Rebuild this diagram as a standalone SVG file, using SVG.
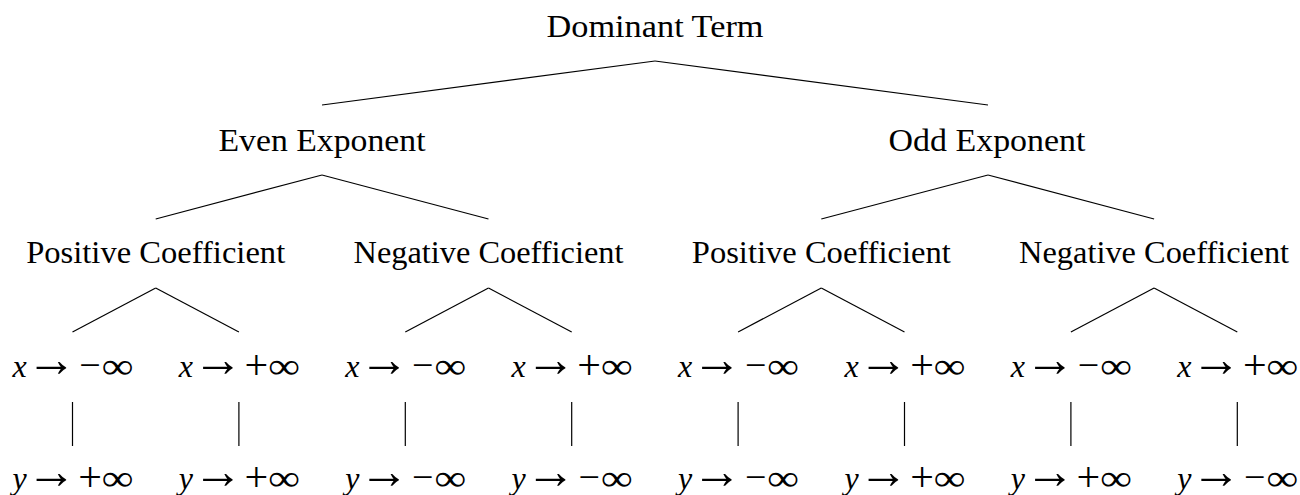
<svg xmlns="http://www.w3.org/2000/svg" width="1300" height="495" viewBox="0 0 1300 495">
<style>
text{font-family:"Liberation Serif","Times New Roman",serif;font-size:32px;fill:#000;text-anchor:middle}
.v{font-style:italic}
.ar{font-size:50px}
.mi{font-size:38px}
.pl{font-size:42px}
.in{font-size:36px}
.e line{stroke:#000;stroke-width:1.2}
</style>
<rect width="1300" height="495" fill="#fff"/>
<g class="e" id="connectors">
<line x1="655" y1="61" x2="322" y2="105"/><line x1="655" y1="61" x2="988" y2="105"/>
<line x1="322" y1="175" x2="155.7" y2="219"/><line x1="322" y1="175" x2="488.5" y2="219"/>
<line x1="988" y1="175" x2="821.3" y2="219"/><line x1="988" y1="175" x2="1154.1" y2="219"/>
<line x1="155.7" y1="288" x2="72.5" y2="332"/><line x1="155.7" y1="288" x2="238.9" y2="332"/>
<line x1="488.5" y1="288" x2="405.3" y2="332"/><line x1="488.5" y1="288" x2="571.7" y2="332"/>
<line x1="821.3" y1="288" x2="738.1" y2="332"/><line x1="821.3" y1="288" x2="904.5" y2="332"/>
<line x1="1154.1" y1="288" x2="1070.9" y2="332"/><line x1="1154.1" y1="288" x2="1237.3" y2="332"/>
<line x1="72.5" y1="402" x2="72.5" y2="446"/><line x1="238.9" y1="402" x2="238.9" y2="446"/>
<line x1="405.3" y1="402" x2="405.3" y2="446"/><line x1="571.7" y1="402" x2="571.7" y2="446"/>
<line x1="738.1" y1="402" x2="738.1" y2="446"/><line x1="904.5" y1="402" x2="904.5" y2="446"/>
<line x1="1070.9" y1="402" x2="1070.9" y2="446"/><line x1="1237.3" y1="402" x2="1237.3" y2="446"/>
</g>
<g id="root"><text x="655" y="37" textLength="217" lengthAdjust="spacingAndGlyphs">Dominant Term</text></g>
<g id="even"><text x="322" y="151" textLength="207" lengthAdjust="spacingAndGlyphs">Even Exponent</text></g>
<g id="odd"><text x="987" y="151" textLength="197" lengthAdjust="spacingAndGlyphs">Odd Exponent</text></g>
<g id="even-pos"><text x="155.7" y="263" textLength="259" lengthAdjust="spacingAndGlyphs">Positive Coefficient</text></g>
<g id="even-neg"><text x="488.5" y="263" textLength="270" lengthAdjust="spacingAndGlyphs">Negative Coefficient</text></g>
<g id="odd-pos"><text x="821.3" y="263" textLength="259" lengthAdjust="spacingAndGlyphs">Positive Coefficient</text></g>
<g id="odd-neg"><text x="1154.1" y="263" textLength="270" lengthAdjust="spacingAndGlyphs">Negative Coefficient</text></g>

<g id="x1" transform="translate(72.5,377)"><text class="v" x="-53">x</text><text class="ar" x="-21" y="-1">→</text><text class="mi" x="17.5" y="1">−</text><text class="in" x="45" y="1" textLength="32" lengthAdjust="spacingAndGlyphs">∞</text></g>
<g id="x2" transform="translate(238.9,377)"><text class="v" x="-53">x</text><text class="ar" x="-21" y="-1">→</text><text class="pl" x="17.5" y="2">+</text><text class="in" x="45" y="1" textLength="32" lengthAdjust="spacingAndGlyphs">∞</text></g>
<g id="x3" transform="translate(405.3,377)"><text class="v" x="-53">x</text><text class="ar" x="-21" y="-1">→</text><text class="mi" x="17.5" y="1">−</text><text class="in" x="45" y="1" textLength="32" lengthAdjust="spacingAndGlyphs">∞</text></g>
<g id="x4" transform="translate(571.7,377)"><text class="v" x="-53">x</text><text class="ar" x="-21" y="-1">→</text><text class="pl" x="17.5" y="2">+</text><text class="in" x="45" y="1" textLength="32" lengthAdjust="spacingAndGlyphs">∞</text></g>
<g id="x5" transform="translate(738.1,377)"><text class="v" x="-53">x</text><text class="ar" x="-21" y="-1">→</text><text class="mi" x="17.5" y="1">−</text><text class="in" x="45" y="1" textLength="32" lengthAdjust="spacingAndGlyphs">∞</text></g>
<g id="x6" transform="translate(904.5,377)"><text class="v" x="-53">x</text><text class="ar" x="-21" y="-1">→</text><text class="pl" x="17.5" y="2">+</text><text class="in" x="45" y="1" textLength="32" lengthAdjust="spacingAndGlyphs">∞</text></g>
<g id="x7" transform="translate(1070.9,377)"><text class="v" x="-53">x</text><text class="ar" x="-21" y="-1">→</text><text class="mi" x="17.5" y="1">−</text><text class="in" x="45" y="1" textLength="32" lengthAdjust="spacingAndGlyphs">∞</text></g>
<g id="x8" transform="translate(1237.3,377)"><text class="v" x="-53">x</text><text class="ar" x="-21" y="-1">→</text><text class="pl" x="17.5" y="2">+</text><text class="in" x="45" y="1" textLength="32" lengthAdjust="spacingAndGlyphs">∞</text></g>

<g id="y1" transform="translate(72.5,489)"><text class="v" x="-53">y</text><text class="ar" x="-21" y="-1">→</text><text class="pl" x="17.5" y="2">+</text><text class="in" x="45" y="1" textLength="32" lengthAdjust="spacingAndGlyphs">∞</text></g>
<g id="y2" transform="translate(238.9,489)"><text class="v" x="-53">y</text><text class="ar" x="-21" y="-1">→</text><text class="pl" x="17.5" y="2">+</text><text class="in" x="45" y="1" textLength="32" lengthAdjust="spacingAndGlyphs">∞</text></g>
<g id="y3" transform="translate(405.3,489)"><text class="v" x="-53">y</text><text class="ar" x="-21" y="-1">→</text><text class="mi" x="17.5" y="1">−</text><text class="in" x="45" y="1" textLength="32" lengthAdjust="spacingAndGlyphs">∞</text></g>
<g id="y4" transform="translate(571.7,489)"><text class="v" x="-53">y</text><text class="ar" x="-21" y="-1">→</text><text class="mi" x="17.5" y="1">−</text><text class="in" x="45" y="1" textLength="32" lengthAdjust="spacingAndGlyphs">∞</text></g>
<g id="y5" transform="translate(738.1,489)"><text class="v" x="-53">y</text><text class="ar" x="-21" y="-1">→</text><text class="mi" x="17.5" y="1">−</text><text class="in" x="45" y="1" textLength="32" lengthAdjust="spacingAndGlyphs">∞</text></g>
<g id="y6" transform="translate(904.5,489)"><text class="v" x="-53">y</text><text class="ar" x="-21" y="-1">→</text><text class="pl" x="17.5" y="2">+</text><text class="in" x="45" y="1" textLength="32" lengthAdjust="spacingAndGlyphs">∞</text></g>
<g id="y7" transform="translate(1070.9,489)"><text class="v" x="-53">y</text><text class="ar" x="-21" y="-1">→</text><text class="pl" x="17.5" y="2">+</text><text class="in" x="45" y="1" textLength="32" lengthAdjust="spacingAndGlyphs">∞</text></g>
<g id="y8" transform="translate(1237.3,489)"><text class="v" x="-53">y</text><text class="ar" x="-21" y="-1">→</text><text class="mi" x="17.5" y="1">−</text><text class="in" x="45" y="1" textLength="32" lengthAdjust="spacingAndGlyphs">∞</text></g>
</svg>
